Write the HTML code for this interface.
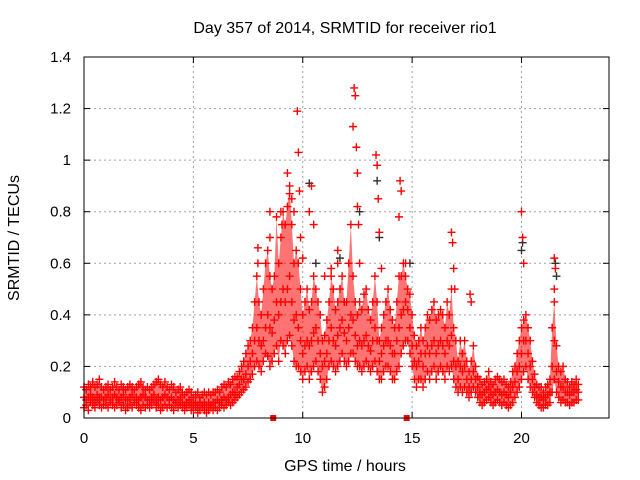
<!DOCTYPE html>
<html><head><meta charset="utf-8"><style>
body{margin:0;background:#fff;}
svg{display:block;font-family:"Liberation Sans",sans-serif;}
</style></head><body>
<svg id="chart" width="640" height="480" viewBox="0 0 640 480">
<rect width="640" height="480" fill="#fff"/>
<text x="345" y="33" font-size="16" text-anchor="middle">Day 357 of 2014, SRMTID for receiver rio1</text>
<text x="345" y="471" font-size="16" text-anchor="middle">GPS time / hours</text>
<text x="0" y="0" font-size="16" text-anchor="middle" transform="translate(19,238) rotate(-90)">SRMTID / TECUs</text>
<g id="grid"></g><g id="band"></g><g id="ticks"></g><g id="marks"></g>
<rect x="84" y="57" width="525" height="361" fill="none" stroke="#000" stroke-width="1"/>
</svg>
<script>
const xTicks=[0,5,10,15,20];
const yTicks=[0,0.2,0.4,0.6,0.8,1,1.2,1.4];
const yTickLabels=["0","0.2","0.4","0.6","0.8","1","1.2","1.4"];
const tStart=0, tStep=0.1;
const lo=[.04,.05,.03,.06,.05,.04,.06,.05,.04,.05,.05,.04,.06,.05,.04,.05,.06,.04,.05,.03,.04,.05,.04,.06,.05,.04,.03,.05,.04,.05,.04,.05,.06,.04,.05,.03,.04,.05,.04,.05,.04,.03,.05,.04,.05,.04,.03,.04,.05,.03,.03,.04,.02,.03,.04,.03,.02,.03,.04,.03,.04,.03,.04,.05,.04,.05,.06,.05,.06,.07,.08,.09,.1,.11,.12,.14,.15,.17,.2,.22,.2,.18,.22,.25,.24,.2,.22,.25,.28,.22,.3,.28,.25,.3,.32,.28,.22,.2,.2,.18,.15,.18,.2,.15,.18,.2,.22,.18,.15,.1,.12,.15,.2,.22,.2,.18,.2,.22,.25,.22,.2,.22,.25,.25,.22,.2,.2,.18,.2,.22,.2,.18,.2,.22,.18,.15,.15,.18,.2,.2,.18,.15,.15,.18,.2,.25,.28,.3,.3,.25,.2,.15,.12,.15,.15,.12,.15,.18,.15,.18,.2,.15,.18,.2,.18,.15,.2,.18,.2,.15,.12,.1,.12,.1,.12,.1,.08,.1,.12,.1,.08,.06,.05,.06,.07,.08,.06,.05,.06,.07,.06,.05,.06,.05,.04,.05,.06,.08,.1,.12,.15,.18,.2,.15,.12,.1,.08,.06,.05,.04,.04,.05,.05,.06,.1,.15,.1,.08,.06,.07,.06,.06,.05,.06,.06,.07,.07];
const mid=[.08,.07,.08,.09,.08,.07,.09,.08,.08,.07,.08,.09,.07,.08,.09,.08,.07,.08,.09,.07,.07,.08,.09,.07,.08,.07,.08,.09,.08,.07,.07,.08,.09,.07,.08,.07,.08,.09,.08,.07,.08,.07,.06,.07,.08,.06,.05,.06,.07,.06,.05,.06,.05,.06,.05,.06,.05,.06,.05,.06,.06,.07,.06,.07,.08,.07,.08,.09,.1,.1,.12,.13,.15,.15,.17,.2,.22,.25,.3,.35,.3,.28,.3,.35,.4,.35,.33,.38,.45,.4,.45,.5,.45,.5,.55,.45,.38,.4,.35,.3,.25,.28,.3,.28,.3,.33,.35,.3,.25,.2,.22,.25,.3,.35,.3,.28,.32,.35,.38,.33,.3,.35,.4,.38,.32,.28,.3,.28,.3,.32,.28,.26,.3,.35,.3,.22,.25,.28,.3,.3,.28,.25,.25,.3,.35,.4,.42,.45,.42,.35,.28,.22,.2,.22,.25,.2,.25,.28,.25,.28,.3,.25,.28,.3,.28,.25,.3,.28,.32,.22,.2,.15,.2,.18,.2,.15,.12,.15,.18,.15,.12,.1,.09,.1,.11,.12,.1,.09,.1,.11,.1,.09,.1,.09,.08,.1,.12,.14,.18,.2,.25,.3,.3,.25,.2,.15,.12,.09,.08,.08,.07,.08,.09,.1,.2,.3,.18,.14,.12,.12,.1,.1,.09,.1,.1,.11,.1];
const hi=[.12,.11,.13,.12,.14,.12,.13,.15,.12,.11,.12,.13,.11,.12,.14,.12,.11,.13,.12,.11,.12,.13,.12,.11,.12,.13,.14,.12,.11,.12,.11,.12,.13,.14,.15,.13,.12,.14,.12,.11,.13,.12,.1,.11,.12,.1,.09,.1,.11,.1,.08,.09,.1,.08,.09,.1,.09,.1,.09,.1,.1,.11,.1,.12,.13,.12,.14,.13,.15,.16,.16,.18,.2,.22,.25,.28,.3,.35,.45,.55,.45,.4,.5,.6,.65,.55,.5,.55,.78,.6,.7,.8,.75,.82,.9,.75,.6,.65,.6,.5,.4,.45,.5,.42,.45,.55,.5,.45,.4,.3,.32,.38,.45,.55,.5,.42,.45,.5,.55,.45,.45,.6,.75,.55,.45,.4,.45,.42,.48,.5,.42,.38,.45,.55,.45,.3,.35,.4,.45,.5,.42,.38,.35,.45,.55,.55,.6,.55,.5,.48,.4,.32,.28,.3,.35,.3,.35,.4,.38,.42,.45,.38,.4,.42,.4,.35,.45,.4,.5,.35,.3,.22,.3,.25,.3,.22,.18,.22,.28,.2,.16,.15,.13,.14,.15,.18,.14,.13,.15,.16,.15,.14,.15,.13,.12,.14,.18,.2,.25,.3,.35,.38,.4,.35,.3,.22,.17,.13,.12,.12,.1,.12,.13,.15,.35,.45,.28,.2,.18,.2,.15,.14,.12,.14,.13,.15,.13];
const spikeT=[7.95,7.95,8.5,8.5,9.0,9.05,9.3,9.4,9.5,9.6,9.75,9.8,9.85,9.9,10.0,10.3,10.4,10.5,11.0,11.3,11.6,11.6,12.3,12.35,12.4,12.45,12.5,12.5,12.55,12.6,13.35,13.4,13.45,13.5,13.6,14.4,14.45,14.5,14.7,16.8,16.85,16.9,16.95,17.65,17.7,20.0,20.05,20.1,21.5,21.5,21.55];
const spikeV=[.66,.6,.8,.7,.8,.75,.95,.87,.85,.8,1.19,1.03,.88,.7,.62,.8,.9,.75,.55,.58,.65,.6,1.13,1.28,1.25,1.05,.95,.82,.75,.6,1.02,.98,.85,.72,.58,.78,.92,.88,.6,.72,.68,.58,.5,.48,.45,.8,.7,.6,.62,.5,.58];
const darkT=[10.3,10.6,11.7,12.6,13.4,13.5,14.9,20.0,20.05,21.55,21.6];
const darkV=[.91,.6,.62,.8,.92,.7,.6,.65,.68,.6,.55];
const zeroT=[8.65,14.75];
const zeroV=[0,0];

const X0=84,X1=609,Y0=418,Y1=57,TMAX=24,VMAX=1.4;
function xs(t){return X0+(X1-X0)*t/TMAX;}
function ys(v){return Y0-(Y0-Y1)*v/VMAX;}
const NS="http://www.w3.org/2000/svg";
function mk(tag,attrs,parent){const e=document.createElementNS(NS,tag);for(const k in attrs)e.setAttribute(k,attrs[k]);parent.appendChild(e);return e;}
const grid=document.getElementById('grid'),ticks=document.getElementById('ticks'),marks=document.getElementById('marks'),band=document.getElementById('band');
yTicks.forEach((v,i)=>{
  const y=ys(v);
  if(v>0&&v<VMAX){const g=mk('line',{x1:X0,x2:X1,y1:y,y2:y,stroke:'#a0a0a0','stroke-dasharray':'2,3'},grid);
  
  }
  mk('line',{x1:X0,x2:X0+6,y1:y,y2:y,stroke:'#000'},ticks);
  mk('line',{x1:X1,x2:X1-6,y1:y,y2:y,stroke:'#000'},ticks);
  const t=mk('text',{x:71,y:y+5,'font-size':15,'text-anchor':'end'},ticks);
  t.textContent=yTickLabels[i];
  
  
});
xTicks.forEach(v=>{
  const x=xs(v);
  if(v>0){const g=mk('line',{x1:x,x2:x,y1:Y0,y2:Y1,stroke:'#a0a0a0','stroke-dasharray':'2,3'},grid);
  
  }
  mk('line',{x1:x,x2:x,y1:Y0,y2:Y0-6,stroke:'#000'},ticks);
  mk('line',{x1:x,x2:x,y1:Y1,y2:Y1+6,stroke:'#000'},ticks);
  const t=mk('text',{x:x,y:443,'font-size':15,'text-anchor':'middle'},ticks);
  t.textContent=String(v);
  
  
});
// range band between lo and hi
let d='';
lo.forEach((v,i)=>{d+=(i?'L':'M')+xs(tStart+i*tStep)+' '+ys(v);});
for(let i=hi.length-1;i>=0;i--){d+='L'+xs(tStart+i*tStep)+' '+ys(hi[i]);}
const bp=mk('path',{d:d+'Z',fill:'#f00','fill-opacity':0.55,stroke:'none'},band);


function plus(t,v,color){
  const x=xs(t),y=ys(v);
  const p=mk('path',{d:`M${x-4} ${y}H${x+4}M${x} ${y-4}V${y+4}`,stroke:color,'stroke-width':1.4,fill:'none'},marks);
  
  
}
darkT.forEach((t,i)=>plus(t,darkV[i],'#333'));
[lo,mid,hi].forEach(arr=>arr.forEach((v,i)=>plus(tStart+i*tStep,v,'#f00')));
spikeT.forEach((t,i)=>plus(t,spikeV[i],'#f00'));
zeroT.forEach((t,i)=>{
  const r=mk('rect',{x:xs(t)-3,y:ys(zeroV[i])-3,width:6,height:6,fill:'#f00'},marks);
  
  
});
</script>
</body></html>
